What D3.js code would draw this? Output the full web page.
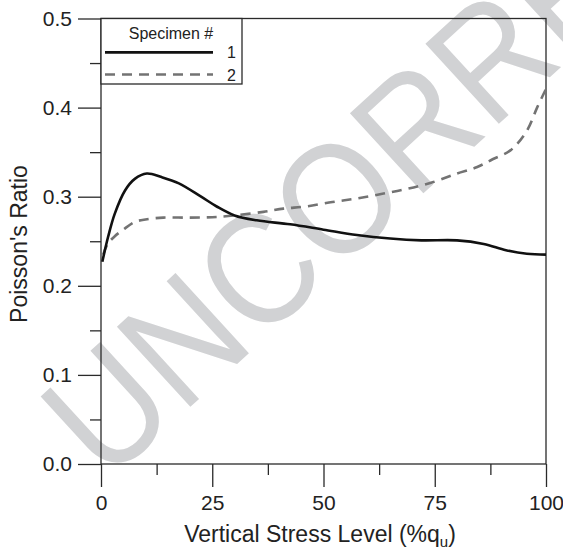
<!DOCTYPE html>
<html>
<head>
<meta charset="utf-8">
<script src="https://cdn.jsdelivr.net/npm/d3@7"></script>
<style>
  html, body { margin: 0; padding: 0; background: #fff; }
  svg { display: block; font-family: "Liberation Sans", Arial, sans-serif; }
</style>
</head>
<body>
<div id="chart"></div>
<script>
// Specimen 1 (solid)
var stress1 = [0.3, 1.6, 3.1, 5.4, 7.6, 10.3, 13.6, 17.5, 22.5, 26, 30, 35, 42.5, 50, 57.5, 65, 72, 80, 86, 91, 95.7, 100];
var ratio1  = [0.227, 0.255, 0.281, 0.307, 0.320, 0.326, 0.322, 0.315, 0.300, 0.289, 0.279, 0.2735, 0.269, 0.263, 0.257, 0.253, 0.251, 0.251, 0.247, 0.240, 0.236, 0.235];

// Specimen 2 (dashed)
var stress2 = [0.5, 1.5, 3.1, 5, 7.6, 10, 14, 20, 25, 30, 36.5, 41, 46, 52, 57.5, 63.5, 69, 74.7, 80, 84.4, 88, 92, 95.7, 98, 100];
var ratio2  = [0.235, 0.247, 0.2556, 0.263, 0.2716, 0.2745, 0.2765, 0.2765, 0.277, 0.279, 0.283, 0.2866, 0.289, 0.294, 0.298, 0.3035, 0.309, 0.3165, 0.326, 0.333, 0.342, 0.352, 0.374, 0.400, 0.421];

var xTicks = [0, 25, 50, 75, 100];
var xMinor = [12.5, 37.5, 62.5, 87.5];
var yTicks = [0, 0.1, 0.2, 0.3, 0.4, 0.5];
var yMinor = [0.05, 0.15, 0.25, 0.35, 0.45];
var legendLabels = ['1', '2'];

var W = 563, H = 548;
var pLeft = 101, pRight = 546, pTop = 18.5, pBottom = 464;

var svg = d3.select('#chart').append('svg').attr('width', W).attr('height', H);

// watermark behind everything (condensed via horizontal scale)
svg.append('text')
    .attr('transform', 'translate(106,484) rotate(-42.5) scale(0.9,1)')
    .attr('font-size', 158)
    .attr('fill', '#d1d2d4')
    .text('UNCORRECTED PROOF');

var x = d3.scaleLinear().domain([0, 100]).range([pLeft, pRight]);
var y = d3.scaleLinear().domain([0, 0.5]).range([pBottom, pTop]);

// frame
svg.append('rect')
    .attr('x', pLeft).attr('y', pTop)
    .attr('width', pRight - pLeft).attr('height', pBottom - pTop)
    .attr('fill', 'none').attr('stroke', '#2a2a2a').attr('stroke-width', 1.3);

// axes
function styleAxis(g) {
    g.select('.domain').remove();
    g.selectAll('.tick line').attr('stroke', '#2a2a2a').attr('stroke-width', 1.3);
    g.selectAll('.tick text').attr('fill', '#222').attr('font-size', 21)
        .attr('font-family', '"Liberation Sans", Arial, sans-serif');
}

svg.append('g').attr('transform', 'translate(0,' + pBottom + ')')
    .call(d3.axisBottom(x).tickValues(xTicks).tickSize(23).tickPadding(8).tickFormat(d3.format('d')))
    .call(styleAxis);
svg.append('g').attr('transform', 'translate(0,' + pBottom + ')')
    .call(d3.axisBottom(x).tickValues(xMinor).tickSize(11).tickFormat(''))
    .call(styleAxis);

svg.append('g').attr('transform', 'translate(' + pLeft + ',0)')
    .call(d3.axisLeft(y).tickValues(yTicks).tickSize(23).tickPadding(6).tickFormat(d3.format('.1f')))
    .call(styleAxis);
svg.append('g').attr('transform', 'translate(' + pLeft + ',0)')
    .call(d3.axisLeft(y).tickValues(yMinor).tickSize(11).tickFormat(''))
    .call(styleAxis);

// curves
var line = d3.line().curve(d3.curveCatmullRom.alpha(0.5))
    .x(function(d) { return x(d[0]); })
    .y(function(d) { return y(d[1]); });

var data1 = stress1.map(function(v, i) { return [v, ratio1[i]]; });
var data2 = stress2.map(function(v, i) { return [v, ratio2[i]]; });

svg.append('path').datum(data2).attr('d', line)
    .attr('fill', 'none').attr('stroke', '#737373').attr('stroke-width', 2.6)
    .attr('stroke-dasharray', '10,7');
svg.append('path').datum(data1).attr('d', line)
    .attr('fill', 'none').attr('stroke', '#111').attr('stroke-width', 2.6);

// legend
var lg = svg.append('g');
lg.append('rect').attr('x', pLeft).attr('y', pTop).attr('width', 141).attr('height', 65.5)
    .attr('fill', '#fff').attr('stroke', '#2a2a2a').attr('stroke-width', 1.3);
lg.append('text').attr('x', 171).attr('y', 38.5).attr('text-anchor', 'middle')
    .attr('font-size', 16).attr('fill', '#222').text('Specimen #');
lg.append('line').attr('x1', 105).attr('x2', 213).attr('y1', 52.4).attr('y2', 52.4)
    .attr('stroke', '#111').attr('stroke-width', 2.6);
lg.append('line').attr('x1', 105).attr('x2', 213).attr('y1', 74.5).attr('y2', 74.5)
    .attr('stroke', '#737373').attr('stroke-width', 2.6).attr('stroke-dasharray', '10,7');
lg.selectAll('text.lab').data(legendLabels).enter().append('text')
    .attr('class', 'lab')
    .attr('x', 236).attr('text-anchor', 'end')
    .attr('y', function(d, i) { return i === 0 ? 58 : 80.5; })
    .attr('font-size', 16).attr('fill', '#222')
    .text(function(d) { return d; });

// axis titles
var xt = svg.append('text').attr('x', 320).attr('y', 542).attr('text-anchor', 'middle')
    .attr('font-size', 23).attr('fill', '#222');
xt.append('tspan').text('Vertical Stress Level (%q');
xt.append('tspan').attr('font-size', 15).attr('dy', 5).text('u');
xt.append('tspan').attr('dy', -5).text(')');

svg.append('text')
    .attr('transform', 'translate(27,244) rotate(-90)')
    .attr('text-anchor', 'middle')
    .attr('font-size', 23).attr('fill', '#222')
    .text("Poisson's Ratio");
</script>
</body>
</html>
